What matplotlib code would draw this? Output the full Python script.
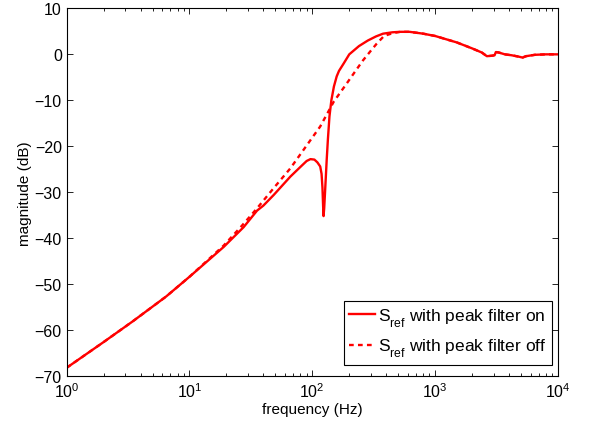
import matplotlib
matplotlib.use("Agg")
import matplotlib.pyplot as plt

try:
    import matplotlib._mathtext as _mt
    _mt.FontConstantsBase.sub1 = 0.75
    _mt.FontConstantsBase.sub2 = 0.8
except Exception:
    pass

plt.rcParams['font.family'] = ['Liberation Sans', 'DejaVu Sans']
plt.rcParams['mathtext.fontset'] = 'custom'
plt.rcParams['mathtext.rm'] = 'Liberation Sans'
plt.rcParams['mathtext.default'] = 'regular'

# Solid curve: peak filter on
freq_on = [1, 2, 3.45, 6.45, 10, 19, 27.6, 35.5, 40, 48.5, 66.3, 80, 90, 96.6,
           104, 110, 116, 119, 121, 122.5, 123.5, 125, 127, 129, 131, 134, 138,
           143, 150, 158, 165, 180, 200, 240, 283, 330, 377, 450, 520, 620, 800,
           1000, 1500, 2000, 2400, 2640, 2900, 3050, 3125, 3300, 3700, 4200,
           4800, 5150, 5500, 6500, 8000, 10000]
mag_on = [-68.2, -62.6, -58.1, -52.7, -48.4, -41.9, -37.6, -34.0, -32.9, -30.6,
          -26.6, -24.5, -23.2, -22.8, -22.9, -23.5, -24.4, -26.0, -29.0, -33.0,
          -35.2, -33.5, -30.0, -26.5, -23.0, -18.5, -13.5, -10.0, -7.0, -4.8,
          -3.6, -2.0, 0.0, 1.8, 3.0, 3.9, 4.5, 4.8, 4.9, 4.9, 4.5,
          4.0, 2.6, 1.3, 0.4, -0.4, -0.3, -0.2, 0.5, 0.4, 0.0, -0.2,
          -0.5, -0.7, -0.4, -0.1, 0.0, 0.0]

# Dashed curve: peak filter off
freq_off = [1, 2, 3.45, 6.45, 10, 19, 26.5, 35.5, 48.5, 66.3, 90.7, 116, 149.5,
            190, 225, 259, 300, 334, 384, 450, 520, 620, 800, 1000, 1500, 2000,
            2400, 2640, 2900, 3050, 3125, 3300, 3700, 4200, 4800, 5150, 5500,
            6500, 8000, 10000]
mag_off = [-68.2, -62.6, -58.1, -52.7, -48.4, -41.6, -37.4, -33.5, -29.1, -24.8,
           -19.7, -15.7, -10.3, -6.4, -3.6, -1.3, 0.8, 2.3, 4.0, 4.6, 4.9, 4.9,
           4.5, 4.0, 2.6, 1.3, 0.4, -0.4, -0.3, -0.2, 0.5, 0.4, 0.0, -0.2, -0.5,
           -0.7, -0.4, -0.1, 0.0, 0.0]

x_ticks = [1, 10, 100, 1000, 10000]
y_ticks = [-70, -60, -50, -40, -30, -20, -10, 0, 10]

fig = plt.figure(figsize=(5.89, 4.27), dpi=100)
ax = fig.add_axes([0.1132, 0.117, 0.834, 0.861])

ax.semilogx(freq_on, mag_on, color='red', lw=1.7, ls='-',
            label='S$_{ref}$ with peak filter on')
ax.semilogx(freq_off, mag_off, color='red', lw=1.7, ls=(0, (2.0, 1.8)),
            label='S$_{ref}$ with peak filter off')

ax.set_xlim(1, 10000)
ax.set_ylim(-70, 10)
ax.set_xticks(x_ticks)
ax.set_yticks(y_ticks)
ax.set_yticklabels([str(v).replace('-', '\u2212') for v in y_ticks])
ax.tick_params(which='both', direction='in', top=True, right=True, labelsize=11.5)
ax.tick_params(which='major', length=4, width=0.6)
ax.tick_params(which='minor', length=2, width=0.6)
for s in ax.spines.values():
    s.set_linewidth(0.8)

ax.set_xlabel('frequency (Hz)', fontsize=11, labelpad=2)
ax.set_ylabel('magnitude (dB)', fontsize=11, labelpad=2)

leg = ax.legend(loc='lower right', bbox_to_anchor=(0.988, 0.031), fontsize=12.5,
                handlelength=1.5, handletextpad=0.2, borderpad=0.3,
                labelspacing=0.45, fancybox=False, framealpha=1,
                edgecolor='black', borderaxespad=0)
leg.get_frame().set_linewidth(0.8)

fig.savefig('out.png', dpi=100)
